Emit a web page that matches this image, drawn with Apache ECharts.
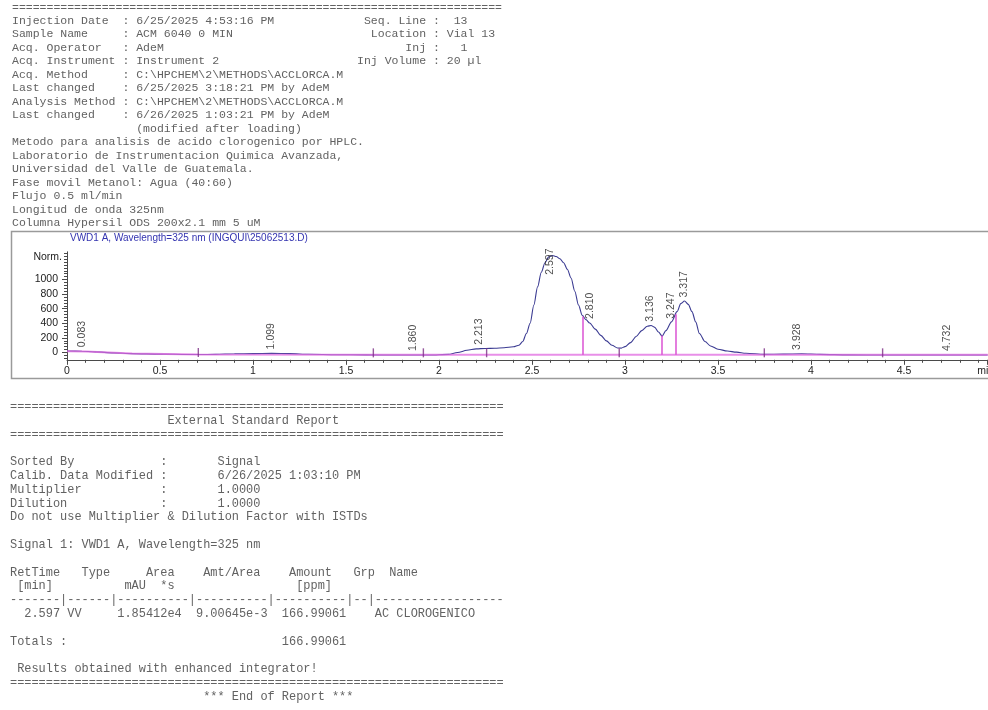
<!DOCTYPE html>
<html>
<head>
<meta charset="utf-8">
<script src="https://cdn.jsdelivr.net/npm/echarts@6/dist/echarts.min.js"></script>
<style>
  html, body { margin: 0; padding: 0; background: #fff; width: 988px; height: 710px; overflow: hidden; }
  #chart { position: absolute; left: 0; top: 0; width: 988px; height: 710px; }
  pre { position: absolute; margin: 0; font-family: "Liberation Mono", "DejaVu Sans Mono", monospace; color: #626262; white-space: pre; }
  #head { left: 12px; top: 0.5px; font-size: 11.5px; line-height: 13.48px; }
  #report { left: 10px; top: 401px; font-size: 11.93px; line-height: 13.8px; }
</style>
</head>
<body>
<div id="chart"></div>
<pre id="head">=======================================================================
Injection Date  : 6/25/2025 4:53:16 PM             Seq. Line :  13
Sample Name     : ACM 6040 0 MIN                    Location : Vial 13
Acq. Operator   : AdeM                                   Inj :   1
Acq. Instrument : Instrument 2                    Inj Volume : 20 µl
Acq. Method     : C:\HPCHEM\2\METHODS\ACCLORCA.M
Last changed    : 6/25/2025 3:18:21 PM by AdeM
Analysis Method : C:\HPCHEM\2\METHODS\ACCLORCA.M
Last changed    : 6/26/2025 1:03:21 PM by AdeM
                  (modified after loading)
Metodo para analisis de acido clorogenico por HPLC.
Laboratorio de Instrumentacion Quimica Avanzada,
Universidad del Valle de Guatemala.
Fase movil Metanol: Agua (40:60)
Flujo 0.5 ml/min
Longitud de onda 325nm
Columna Hypersil ODS 200x2.1 mm 5 uM</pre>
<pre id="report">=====================================================================
                      External Standard Report
=====================================================================

Sorted By            :       Signal
Calib. Data Modified :       6/26/2025 1:03:10 PM
Multiplier           :       1.0000
Dilution             :       1.0000
Do not use Multiplier &amp; Dilution Factor with ISTDs

Signal 1: VWD1 A, Wavelength=325 nm

RetTime   Type     Area    Amt/Area    Amount   Grp  Name
 [min]          mAU  *s                 [ppm]
-------|------|----------|----------|----------|--|------------------
  2.597 VV     1.85412e4  9.00645e-3  166.99061    AC CLOROGENICO

Totals :                              166.99061

 Results obtained with enhanced integrator!
=====================================================================
                           *** End of Report ***</pre>
<script>
// Detector trace: retention time (min) and signal (Norm.)
const timeMin = [
  0.00, 0.08, 0.15, 0.25, 0.35, 0.50, 0.65, 0.71, 0.80, 0.90,
  1.00, 1.10, 1.20, 1.30, 1.45, 1.60, 1.80, 1.95, 2.05, 2.10,
  2.15, 2.20, 2.25, 2.30, 2.35, 2.40, 2.43, 2.45, 2.47, 2.49,
  2.51, 2.53, 2.55, 2.57, 2.59, 2.61, 2.63, 2.65, 2.67, 2.69,
  2.71, 2.73, 2.75, 2.77, 2.79, 2.81, 2.84, 2.87, 2.90, 2.93,
  2.96, 2.98, 3.00, 3.03, 3.06, 3.09, 3.12, 3.14, 3.16, 3.18,
  3.20, 3.22, 3.25, 3.28, 3.30, 3.32, 3.34, 3.36, 3.38, 3.40,
  3.43, 3.46, 3.50, 3.55, 3.60, 3.65, 3.75, 3.85, 3.95, 4.05,
  4.20, 4.40, 4.60, 4.80, 4.95
];
const signalNorm = [
  20, 18, 8, -5, -15, -22, -27, -28, -25, -18,
  -16, -12, -16, -24, -30, -33, -35, -35, -25, 0,
  30, 50, 55, 58, 65, 78, 100, 150, 260, 400,
  650, 900, 1100, 1230, 1310, 1330, 1315, 1285, 1230, 1140,
  1020, 840, 650, 510, 450, 405, 320, 235, 160, 100,
  62, 60, 80, 135, 220, 300, 360, 370, 345, 280,
  225, 300, 420, 560, 670, 705, 660, 560, 420, 260,
  150, 90, 45, 20, 5, -10, -25, -22, -18, -25,
  -32, -35, -35, -35, -35
];

// Integration baseline
const baseTime = [0.00, 0.10, 0.35, 0.706, 1.647, 2.256, 4.95];
const baseNorm = [18, 14, -15, -27, -32, -31, -32];

// Labelled peaks, drop lines and peak-boundary marks (min)
const peakRT = [0.083, 1.099, 1.860, 2.213, 2.597, 2.810, 3.136, 3.247, 3.317, 3.928, 4.732];
const dropRT = [2.775, 3.197, 3.272];
const boundRT = [0.706, 1.647, 1.916, 2.256, 2.969, 3.749, 4.385];

// Axis ticks
const yTickLabels = [0, 200, 400, 600, 800, 1000];
const X_MIN = 0, X_MAX = 4.95, Y_MIN = -100, Y_MAX = 1380;

function interp(xs, ys, t) {
  if (t <= xs[0]) return ys[0];
  for (let i = 1; i < xs.length; i++) {
    if (t <= xs[i]) {
      const f = (t - xs[i - 1]) / (xs[i] - xs[i - 1]);
      return ys[i - 1] + f * (ys[i] - ys[i - 1]);
    }
  }
  return ys[ys.length - 1];
}

const yMinor = [];
for (let v = -80; v <= Y_MAX; v += 40) yMinor.push(v);

const gridTop = 251.8, gridBottomPx = 359.8;
const unitsPerPx = (Y_MAX - Y_MIN) / (gridBottomPx - gridTop);
const labelRoom = 27 * unitsPerPx;

const axisColor = '#4a4a4a';
const textColor = '#222';
const sans = '"Liberation Sans", Arial, sans-serif';

const chart = echarts.init(document.getElementById('chart'));
chart.setOption({
  animation: false,
  title: {
    text: 'VWD1 A, Wavelength=325 nm (INGQUI\\25062513.D)',
    left: 70, top: 233.5, padding: 0,
    textStyle: { fontSize: 10, fontWeight: 'normal', color: '#3434b0', fontFamily: sans }
  },
  graphic: [{
    type: 'rect', z: -10, silent: true,
    shape: { x: 11.5, y: 231.5, width: 1000, height: 147 },
    style: { fill: null, stroke: '#9a9a9a', lineWidth: 1.5 }
  }],
  grid: {
    left: 67, top: gridTop, right: 988 - 67 - 186 * X_MAX, bottom: 710 - gridBottomPx,
    containLabel: false, outerBoundsMode: 'none'
  },
  xAxis: {
    type: 'value', min: X_MIN, max: X_MAX, interval: 0.5,
    name: 'min', nameLocation: 'end', nameGap: -2,
    nameTextStyle: { color: textColor, fontSize: 10.5, fontFamily: sans, align: 'center', verticalAlign: 'top', padding: [6, 0, 0, 0] },
    axisLine: { show: true, onZero: false, lineStyle: { color: axisColor, width: 1 } },
    axisTick: { show: true, length: 5, lineStyle: { color: axisColor } },
    minorTick: { show: true, splitNumber: 5, length: 3, lineStyle: { color: axisColor } },
    axisLabel: { color: textColor, fontSize: 10.5, fontFamily: sans, margin: 6, showMaxLabel: false },
    splitLine: { show: false }, minorSplitLine: { show: false }
  },
  yAxis: [{
    type: 'value', min: Y_MIN, max: Y_MAX,
    name: 'Norm.', nameLocation: 'end', nameGap: -5,
    nameTextStyle: { color: textColor, fontSize: 10.5, fontFamily: sans, align: 'right', verticalAlign: 'middle', padding: [0, 5, 0, 0] },
    axisLine: { show: true, onZero: false, lineStyle: { color: axisColor, width: 1 } },
    axisTick: { show: true, length: 5, customValues: yTickLabels, lineStyle: { color: axisColor } },
    axisLabel: { customValues: yTickLabels, formatter: v => String(v), color: textColor, fontSize: 10.5, fontFamily: sans, margin: 9 },
    splitLine: { show: false }
  }, {
    type: 'value', min: Y_MIN, max: Y_MAX, position: 'left',
    axisLine: { show: false },
    axisTick: { show: true, length: 3, customValues: yMinor, lineStyle: { color: axisColor } },
    axisLabel: { show: false },
    splitLine: { show: false }
  }],
  series: [{
    name: 'VWD1 A', type: 'line', z: 3,
    data: timeMin.map((t, i) => [t, signalNorm[i]]),
    showSymbol: false, smooth: 0.3, smoothMonotone: 'x',
    lineStyle: { color: '#3b3b92', width: 1.1 }
  }, {
    name: 'baseline', type: 'line', z: 4,
    data: baseTime.map((t, i) => [t, baseNorm[i]]),
    showSymbol: false,
    lineStyle: { color: '#e06ae0', width: 2, opacity: 0.75 }
  }, {
    name: 'drop lines', type: 'lines', coordinateSystem: 'cartesian2d', z: 5,
    data: dropRT.map(t => ({ coords: [[t, interp(baseTime, baseNorm, t)], [t, interp(timeMin, signalNorm, t)]] })),
    lineStyle: { color: '#d94bd2', width: 1.6, opacity: 0.9 }
  }, {
    name: 'boundaries', type: 'scatter', z: 6,
    data: boundRT.map(t => [t, interp(baseTime, baseNorm, t)]),
    symbol: 'rect', symbolSize: [1.4, 9], symbolOffset: [0, -2],
    itemStyle: { color: '#7d2f86' }
  }, {
    name: 'peaks', type: 'scatter', z: 7,
    data: peakRT.map(t => [t, Math.min(interp(timeMin, signalNorm, t), Y_MAX - labelRoom)]),
    symbolSize: 0,
    label: {
      show: true, position: 'top', distance: 4, rotate: 90,
      align: 'left', verticalAlign: 'middle',
      formatter: p => p.value[0].toFixed(3),
      color: textColor, fontSize: 10.5, fontFamily: sans
    }
  }]
});
</script>
</body>
</html>
